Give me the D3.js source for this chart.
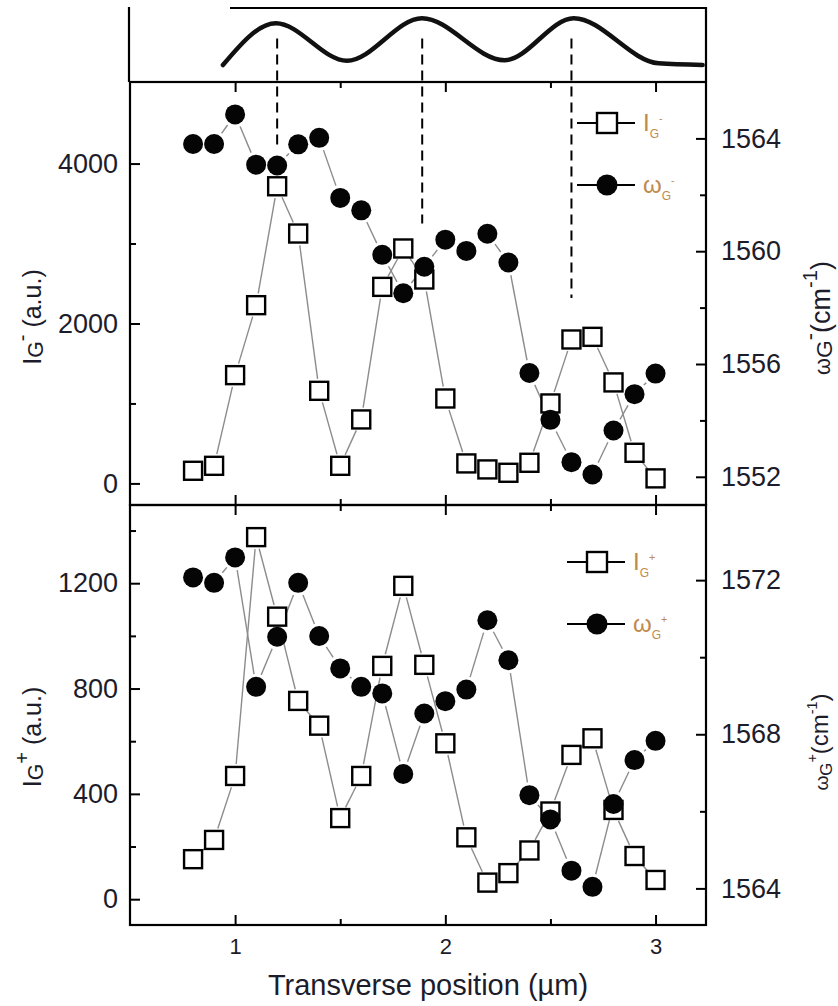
<!DOCTYPE html>
<html>
<head>
<meta charset="utf-8">
<script src="https://cdnjs.cloudflare.com/ajax/libs/d3/7.8.5/d3.min.js"></script>
<style>
  body { margin: 0; background: #fff; }
  svg { display: block; font-family: "Liberation Sans", Arial, sans-serif; }
  .tick text { fill: #1c1c2a; }
</style>
</head>
<body>
<div id="wrapper"></div>
<script>
// ---- data ----
const positions = [0.8, 0.9, 1.0, 1.1, 1.2, 1.3, 1.4, 1.5, 1.6, 1.7, 1.8, 1.9,
                   2.0, 2.1, 2.2, 2.3, 2.4, 2.5, 2.6, 2.7, 2.8, 2.9, 3.0];

// G- band
const intensityMinus = [158, 220, 1354, 2229, 3716, 3125, 1158, 220, 800, 2458, 2938, 2550,
                        1062, 250, 175, 133, 258, 1000, 1800, 1833, 1263, 383, 63];
const omegaMinus = [1563.8, 1563.8, 1564.85, 1563.07, 1563.04, 1563.79, 1564.02, 1561.89, 1561.45, 1559.87, 1558.51, 1559.45,
                    1560.41, 1560.01, 1560.62, 1559.6, 1555.68, 1554.02, 1552.52, 1552.08, 1553.64, 1554.93, 1555.66];

// G+ band
const intensityPlus = [152, 225, 468, 1375, 1073, 753, 659, 308, 468, 886, 1190, 890,
                       592, 235, 63, 99, 185, 333, 548, 611, 339, 164, 73];
const omegaPlus = [1572.07, 1571.93, 1572.59, 1569.23, 1570.53, 1571.93, 1570.55, 1569.71, 1569.23, 1569.06, 1566.97, 1568.54,
                   1568.86, 1569.16, 1570.96, 1569.92, 1566.42, 1565.79, 1564.46, 1564.04, 1566.19, 1567.33, 1567.83];

// schematic profile in the top strip (arbitrary units)
const profileX = [0.942, 1.194, 1.532, 1.889, 2.282, 2.611, 3.014, 3.224];
const profileY = [0.125, 0.87, 0.2, 0.96, 0.21, 0.96, 0.155, 0.125];

// dashed guide lines: position and where they stop (in I_G- units)
const peakPositions = [1.2, 1.89, 2.6];
const peakLineEnds = [4190, 3250, 2320];

// ticks
const xMajor = [1, 2, 3];
const xMinor = [1.5, 2.5];
const iMinusMajor = [0, 2000, 4000];
const iMinusMinor = [1000, 3000];
const wMinusMajor = [1552, 1556, 1560, 1564];
const wMinusMinor = [1554, 1558, 1562];
const iPlusMajor = [0, 400, 800, 1200];
const iPlusMinor = [200, 600, 1000, 1400];
const wPlusMajor = [1564, 1568, 1572];
const wPlusMinor = [1566, 1570];

// ---- layout ----
const width = 838, height = 1006;
const left = 130, right = 706;
const strip = { top: 8, bottom: 82 };
const panelA = { top: 82, bottom: 505 };
const panelB = { top: 505, bottom: 925 };

const svg = d3.select("#wrapper").append("svg")
  .attr("width", width).attr("height", height);

// ---- scales ----
const x = d3.scaleLinear().domain([0.5, 3.24]).range([left, right]);
const yStrip = d3.scaleLinear().domain([0, 1]).range([strip.bottom - 10, strip.top + 8]);
const yIm = d3.scaleLinear().domain([-270, 5020]).range([panelA.bottom, panelA.top]);
const yWm = d3.scaleLinear().domain([1551, 1566]).range([panelA.bottom, panelA.top]);
const yIp = d3.scaleLinear().domain([-98, 1497]).range([panelB.bottom, panelB.top]);
const yWp = d3.scaleLinear().domain([1563.05, 1573.95]).range([panelB.bottom, panelB.top]);

// ---- helpers ----
function richText(parent, parts, size) {
  const t = parent.append("text").attr("font-size", size);
  let cur = 0;
  parts.forEach((p) => {
    const shift = p.shift || 0;
    t.append("tspan")
      .attr("dy", shift - cur)
      .attr("font-size", size * (p.scale || 1))
      .text(p.t);
    cur = shift;
  });
  return t;
}

function styleAxis(g) {
  g.select(".domain").remove();
  g.selectAll(".tick line").attr("stroke", "#000").attr("stroke-width", 2);
}

function xTicks(y0, y1, withLabels) {
  svg.append("g").attr("transform", `translate(0,${y1})`)
    .call(d3.axisBottom(x).tickValues(xMajor).tickSize(-10).tickPadding(13)
      .tickFormat(withLabels ? d3.format("d") : ""))
    .call(styleAxis)
    .call((g) => g.selectAll("text").attr("font-size", 22).attr("dy", "0.71em"));
  svg.append("g").attr("transform", `translate(0,${y1})`)
    .call(d3.axisBottom(x).tickValues(xMinor).tickSize(-6).tickFormat(""))
    .call(styleAxis);
  svg.append("g").attr("transform", `translate(0,${y0})`)
    .call(d3.axisTop(x).tickValues(xMajor).tickSize(-10).tickFormat(""))
    .call(styleAxis);
  svg.append("g").attr("transform", `translate(0,${y0})`)
    .call(d3.axisTop(x).tickValues(xMinor).tickSize(-6).tickFormat(""))
    .call(styleAxis);
}

function yAxes(yL, majL, minL, yR, majR, minR) {
  svg.append("g").attr("transform", `translate(${left},0)`)
    .call(d3.axisLeft(yL).tickValues(majL).tickSize(-10).tickPadding(12).tickFormat(d3.format("d")))
    .call(styleAxis)
    .call((g) => g.selectAll("text").attr("font-size", 27));
  svg.append("g").attr("transform", `translate(${left},0)`)
    .call(d3.axisLeft(yL).tickValues(minL).tickSize(-6).tickFormat(""))
    .call(styleAxis);
  svg.append("g").attr("transform", `translate(${right},0)`)
    .call(d3.axisRight(yR).tickValues(majR).tickSize(-10).tickPadding(15).tickFormat(d3.format("d")))
    .call(styleAxis)
    .call((g) => g.selectAll("text").attr("font-size", 27));
  svg.append("g").attr("transform", `translate(${right},0)`)
    .call(d3.axisRight(yR).tickValues(minR).tickSize(-6).tickFormat(""))
    .call(styleAxis);
}

// thin grey connectors that stop short of the markers
function connectors(yScale, values, gap) {
  const pts = positions.map((p, i) => [x(p), yScale(values[i])]);
  const segs = [];
  for (let i = 0; i < pts.length - 1; i++) {
    const [x0, y0] = pts[i], [x1, y1] = pts[i + 1];
    const len = Math.hypot(x1 - x0, y1 - y0);
    if (len <= 2 * gap + 2) continue;
    const ux = (x1 - x0) / len, uy = (y1 - y0) / len;
    segs.push([x0 + ux * gap, y0 + uy * gap, x1 - ux * gap, y1 - uy * gap]);
  }
  svg.append("g").selectAll("line").data(segs).join("line")
    .attr("x1", (d) => d[0]).attr("y1", (d) => d[1])
    .attr("x2", (d) => d[2]).attr("y2", (d) => d[3])
    .attr("stroke", "#8c8c8c").attr("stroke-width", 1.4);
}

function squares(yScale, values) {
  svg.append("g").selectAll("rect").data(values).join("rect")
    .attr("x", (d, i) => x(positions[i]) - 9)
    .attr("y", (d) => yScale(d) - 9)
    .attr("width", 18).attr("height", 18)
    .attr("fill", "#fff").attr("stroke", "#000").attr("stroke-width", 2.4);
}

function circles(yScale, values) {
  svg.append("g").selectAll("circle").data(values).join("circle")
    .attr("cx", (d, i) => x(positions[i]))
    .attr("cy", (d) => yScale(d))
    .attr("r", 10)
    .attr("fill", "#050505");
}

function legend(x0, yTop, sign) {
  const g = svg.append("g").attr("transform", `translate(${x0},${yTop})`);
  const rows = [
    { dy: 0, kind: "square", label: "I" },
    { dy: 62, kind: "circle", label: "\u03c9" }
  ];
  rows.forEach((r) => {
    g.append("line").attr("x1", 0).attr("x2", 58).attr("y1", r.dy).attr("y2", r.dy)
      .attr("stroke", "#000").attr("stroke-width", 2);
    if (r.kind === "square") {
      g.append("rect").attr("x", 20).attr("y", r.dy - 10).attr("width", 20).attr("height", 20)
        .attr("fill", "#fff").attr("stroke", "#000").attr("stroke-width", 2.4);
    } else {
      g.append("circle").attr("cx", 30).attr("cy", r.dy).attr("r", 10.5).attr("fill", "#050505");
    }
    richText(g, [
      { t: r.label },
      { t: "G", scale: 0.5, shift: 7 },
      { t: sign, scale: 0.45, shift: -9 }
    ], 24)
      .attr("x", 66).attr("y", r.dy + 8)
      .attr("fill", "#c08a4e");
  });
}

// ---- top strip: schematic profile ----
svg.append("path")
  .attr("d", `M230,${strip.top}H${right}V${strip.bottom}M${left - 1},${strip.top - 1}V${strip.bottom}`)
  .attr("fill", "none").attr("stroke", "#000").attr("stroke-width", 2.2);

const profileLine = d3.line()
  .x((d, i) => x(profileX[i]))
  .y((d) => yStrip(d))
  .curve(d3.curveMonotoneX);

svg.append("path")
  .attr("d", profileLine(profileY))
  .attr("fill", "none").attr("stroke", "#111").attr("stroke-width", 4.5)
  .attr("stroke-linecap", "round");

// dashed guides
svg.append("g").selectAll("line").data(peakPositions).join("line")
  .attr("x1", (d) => x(d)).attr("x2", (d) => x(d))
  .attr("y1", yStrip(0.6))
  .attr("y2", (d, i) => yIm(peakLineEnds[i]))
  .attr("stroke", "#000").attr("stroke-width", 2)
  .attr("stroke-dasharray", "10,6");

// ---- panel frames ----
[panelA, panelB].forEach((p) => {
  svg.append("rect")
    .attr("x", left).attr("y", p.top)
    .attr("width", right - left).attr("height", p.bottom - p.top)
    .attr("fill", "none").attr("stroke", "#000").attr("stroke-width", 2.2);
});

// ---- panel A: G- ----
connectors(yIm, intensityMinus, 12);
connectors(yWm, omegaMinus, 13);
squares(yIm, intensityMinus);
circles(yWm, omegaMinus);
xTicks(panelA.top, panelA.bottom, false);
yAxes(yIm, iMinusMajor, iMinusMinor, yWm, wMinusMajor, wMinusMinor);
legend(577, 123, "-");

// ---- panel B: G+ ----
connectors(yIp, intensityPlus, 12);
connectors(yWp, omegaPlus, 13);
squares(yIp, intensityPlus);
circles(yWp, omegaPlus);
xTicks(panelB.top, panelB.bottom, true);
yAxes(yIp, iPlusMajor, iPlusMinor, yWp, wPlusMajor, wPlusMinor);
legend(567, 562, "+");

// ---- axis titles ----
svg.append("text")
  .attr("x", 428).attr("y", 995)
  .attr("text-anchor", "middle").attr("font-size", 29).attr("fill", "#1c1c2a")
  .text("Transverse position (\u00b5m)");

richText(svg.append("g").attr("transform", "translate(41,317) rotate(-90)"), [
  { t: "I" }, { t: "G", scale: 0.85, shift: 2 }, { t: "-", scale: 0.8, shift: -12 }, { t: " (a.u.)" }
], 25).attr("text-anchor", "middle").attr("fill", "#1c1c2a");

richText(svg.append("g").attr("transform", "translate(41,737) rotate(-90)"), [
  { t: "I" }, { t: "G", scale: 0.85, shift: 2 }, { t: "+", scale: 0.8, shift: -12 }, { t: " (a.u.)" }
], 25).attr("text-anchor", "middle").attr("fill", "#1c1c2a");

richText(svg.append("g").attr("transform", "translate(830,318) rotate(-90)"), [
  { t: "\u03c9", scale: 0.8 }, { t: "G", scale: 0.85, shift: 2 }, { t: "-", scale: 0.8, shift: -13 },
  { t: "(cm" }, { t: "-1", scale: 0.75, shift: -13 }, { t: ")" }
], 27).attr("text-anchor", "middle").attr("fill", "#1c1c2a");

richText(svg.append("g").attr("transform", "translate(828,742) rotate(-90)"), [
  { t: "\u03c9", scale: 0.8 }, { t: "G", scale: 0.7, shift: 4 }, { t: "+", scale: 0.6, shift: -11 },
  { t: "(cm" }, { t: "-1", scale: 0.6, shift: -11 }, { t: ")" }
], 24).attr("text-anchor", "middle").attr("fill", "#1c1c2a");
</script>
</body>
</html>
